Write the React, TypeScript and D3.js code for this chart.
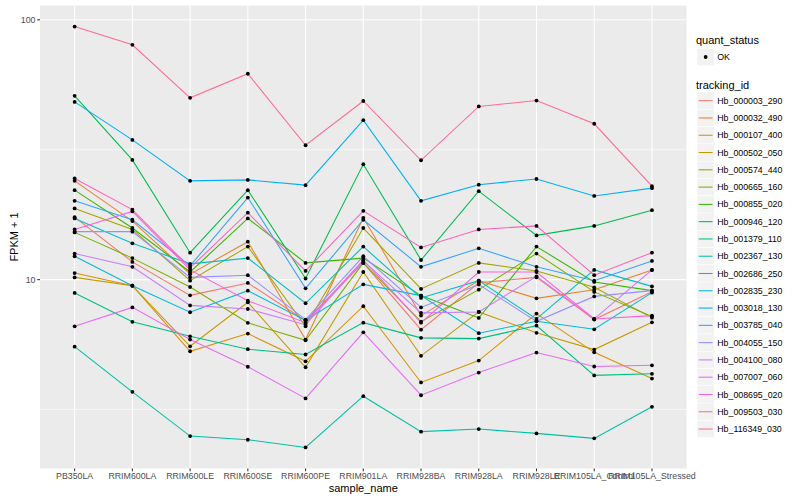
import React, { useEffect } from 'react';
import * as d3 from 'd3';

const samples = [
  'PB350LA', 'RRIM600LA', 'RRIM600LE', 'RRIM600SE', 'RRIM600PE', 'RRIM901LA',
  'RRIM928BA', 'RRIM928LA', 'RRIM928LE', 'RRIM105LA_Control', 'RRIM105LA_Stressed',
];

const trackingIds = [
  'Hb_000003_290', 'Hb_000032_490', 'Hb_000107_400', 'Hb_000502_050', 'Hb_000574_440',
  'Hb_000665_160', 'Hb_000855_020', 'Hb_000946_120', 'Hb_001379_110', 'Hb_002367_130',
  'Hb_002686_250', 'Hb_002835_230', 'Hb_003018_130', 'Hb_003785_040', 'Hb_004055_150',
  'Hb_004100_080', 'Hb_007007_060', 'Hb_008695_020', 'Hb_009503_030', 'Hb_116349_030',
];

// FPKM + 1 per sample (same order as samples)
const hb000003 = [17.4, 11.7, 8.7, 9.71, 6.95, 11.6, 6.42, 9.73, 10.2, 7.02, 8.99];
const hb000032 = [24.0, 16.8, 10.5, 14.0, 5.88, 17.3, 7.27, 9.91, 8.47, 9.15, 10.9];
const hb000107 = [10.6, 9.48, 5.3, 6.2, 4.85, 7.9, 4.02, 4.88, 7.4, 5.25, 4.16];
const hb000502 = [10.2, 9.48, 5.54, 8.18, 4.6, 10.7, 5.09, 7.51, 6.24, 5.38, 6.85];
const hb000574 = [18.8, 15.6, 9.91, 13.4, 6.61, 15.8, 9.21, 11.6, 10.8, 9.34, 7.14];
const hb000665 = [15.2, 12.1, 9.37, 6.82, 5.84, 11.6, 6.89, 9.15, 12.6, 8.97, 7.21];
const hb000855 = [22.1, 15.8, 10.7, 17.2, 11.6, 12.1, 8.68, 7.12, 13.4, 9.8, 9.07];
const hb000946 = [51.0, 28.9, 12.7, 22.1, 10.1, 27.8, 11.9, 21.9, 14.8, 16.1, 18.5];
const hb001379 = [8.89, 6.88, 6.05, 5.4, 5.15, 6.83, 5.97, 5.93, 6.65, 4.28, 4.34];
const hb002367 = [5.52, 3.7, 2.5, 2.42, 2.26, 3.56, 2.6, 2.66, 2.56, 2.45, 3.24];
const hb002686 = [17.2, 13.8, 11.5, 12.1, 8.11, 13.4, 8.5, 9.91, 7.06, 10.9, 9.42];
const hb002835 = [12.3, 9.48, 7.49, 9.07, 6.97, 9.59, 8.68, 6.22, 6.91, 6.44, 8.91];
const hb003018 = [48.3, 34.5, 24.0, 24.2, 23.1, 41.1, 20.1, 23.2, 24.4, 21.0, 22.5];
const hb003785 = [20.1, 17.0, 11.3, 20.7, 9.26, 17.0, 11.2, 13.2, 11.2, 9.91, 11.8];
const hb004055 = [15.3, 15.3, 10.2, 10.4, 7.02, 12.3, 7.82, 9.57, 6.91, 8.62, 9.07];
const hb004100 = [12.6, 11.2, 7.96, 7.71, 6.71, 11.8, 7.45, 7.51, 10.3, 7.06, 10.9];
const hb007007 = [6.61, 7.82, 5.88, 4.62, 3.49, 6.27, 3.59, 4.39, 5.24, 4.63, 4.68];
const hb008695 = [15.6, 18.3, 10.9, 8.3, 6.83, 11.9, 6.83, 10.7, 10.7, 7.06, 7.27];
const hb009503 = [24.5, 18.6, 11.1, 18.1, 10.8, 18.4, 13.3, 15.6, 16.1, 10.4, 12.7];
const hb116349 = [94.2, 80.1, 50.1, 62.0, 32.9, 48.7, 28.8, 46.4, 48.9, 39.8, 22.9];

const seriesValues = [
  hb000003, hb000032, hb000107, hb000502, hb000574, hb000665, hb000855, hb000946,
  hb001379, hb002367, hb002686, hb002835, hb003018, hb003785, hb004055, hb004100,
  hb007007, hb008695, hb009503, hb116349,
];

const quantStatus = ['OK'];
const yMajorTicks = [10, 100];
const yMinorTicks = [Math.sqrt(10), Math.sqrt(10) * 10];

const palette = [
  '#F8766D', '#EA8331', '#D89000', '#C09B00', '#A3A500', '#7CAE00', '#39B600', '#00BB4E',
  '#00BF7D', '#00C1A3', '#00BFC4', '#00BAE0', '#00B0F6', '#35A2FF', '#9590FF', '#C77CFF',
  '#E76BF3', '#FA62DB', '#FF62BC', '#FF6C91',
];

const W = 800;
const H = 500;
const P = { left: 40, right: 686.6, top: 5.5, bottom: 468.5 };
const FONT = '"Liberation Sans", Arial, Helvetica, sans-serif';

export default function App() {
  useEffect(() => {
    document.body.style.margin = '0';
  }, []);

  const x = d3.scalePoint<string>().domain(samples).range([P.left, P.right]).padding(0.6);

  const all = seriesValues.flat();
  const lo = Math.log10(d3.min(all) as number);
  const hi = Math.log10(d3.max(all) as number);
  const pad = (hi - lo) * 0.05;
  const y = d3.scaleLog().domain([Math.pow(10, lo - pad), Math.pow(10, hi + pad)]).range([P.bottom, P.top]);

  const line = d3
    .line<number>()
    .x((_, i) => x(samples[i]) as number)
    .y((d) => y(d));

  const keyH = 17.28;
  const legendX = 697;

  return (
    <svg
      width={W}
      height={H}
      viewBox={`0 0 ${W} ${H}`}
      style={{ position: 'absolute', left: 0, top: 0, background: '#fff', fontFamily: FONT }}
    >
      <rect x={0} y={0} width={W} height={H} fill="#fff" />
      <rect x={P.left} y={P.top} width={P.right - P.left} height={P.bottom - P.top} fill="#EBEBEB" />
      {yMinorTicks.map((t) => (
        <line key={'mn' + t} x1={P.left} x2={P.right} y1={y(t)} y2={y(t)} stroke="#fff" strokeWidth={0.55} />
      ))}
      {yMajorTicks.map((t) => (
        <line key={'mj' + t} x1={P.left} x2={P.right} y1={y(t)} y2={y(t)} stroke="#fff" strokeWidth={1.07} />
      ))}
      {samples.map((s) => (
        <line key={'vx' + s} x1={x(s)} x2={x(s)} y1={P.top} y2={P.bottom} stroke="#fff" strokeWidth={1.07} />
      ))}

      {seriesValues.map((vals, i) => (
        <path key={'l' + i} d={line(vals) as string} fill="none" stroke={palette[i]} strokeWidth={1.07} />
      ))}
      {seriesValues.map((vals, i) =>
        vals.map((v, j) => (
          <circle key={'p' + i + '_' + j} cx={x(samples[j])} cy={y(v)} r={1.9} fill="#000" />
        ))
      )}

      {/* y axis */}
      {yMajorTicks.map((t) => (
        <g key={'yt' + t}>
          <line x1={P.left - 2.75} x2={P.left} y1={y(t)} y2={y(t)} stroke="#333" strokeWidth={1.07} />
          <text x={P.left - 4.5} y={y(t)} dy="0.35em" textAnchor="end" fontSize={8.8} fill="#4D4D4D">
            {t}
          </text>
        </g>
      ))}
      {/* x axis */}
      {samples.map((s) => (
        <g key={'xt' + s}>
          <line x1={x(s)} x2={x(s)} y1={P.bottom} y2={P.bottom + 2.75} stroke="#333" strokeWidth={1.07} />
          <text x={x(s)} y={P.bottom + 10.5} textAnchor="middle" fontSize={8.8} fill="#4D4D4D">
            {s}
          </text>
        </g>
      ))}
      <text x={(P.left + P.right) / 2} y={492} textAnchor="middle" fontSize={11} fill="#000">
        sample_name
      </text>
      <text
        transform={`translate(17.5, ${(P.top + P.bottom) / 2}) rotate(-90)`}
        textAnchor="middle"
        fontSize={11}
        fill="#000"
      >
        FPKM + 1
      </text>

      {/* legend: quant_status */}
      <text x={legendX - 1} y={44} fontSize={11} fill="#000">
        quant_status
      </text>
      {quantStatus.map((q, i) => {
        const cy = 57 + i * keyH;
        return (
          <g key={'qs' + q}>
            <rect x={legendX} y={cy - keyH / 2} width={keyH} height={keyH} fill="#F2F2F2" stroke="#fff" strokeWidth={0.5} />
            <circle cx={legendX + keyH / 2} cy={cy} r={1.9} fill="#000" />
            <text x={legendX + keyH + 3} y={cy} dy="0.35em" fontSize={8.8} fill="#000">
              {q}
            </text>
          </g>
        );
      })}

      {/* legend: tracking_id */}
      <text x={legendX - 1} y={89} fontSize={11} fill="#000">
        tracking_id
      </text>
      {trackingIds.map((id, i) => {
        const cy = 100.7 + i * keyH;
        return (
          <g key={'ti' + id}>
            <rect x={legendX} y={cy - keyH / 2} width={keyH} height={keyH} fill="#F2F2F2" stroke="#fff" strokeWidth={0.5} />
            <line x1={legendX + 1.7} x2={legendX + keyH - 1.7} y1={cy} y2={cy} stroke={palette[i]} strokeWidth={1.07} />
            <text x={legendX + keyH + 3} y={cy} dy="0.35em" fontSize={8.8} fill="#000">
              {id}
            </text>
          </g>
        );
      })}
    </svg>
  );
}
